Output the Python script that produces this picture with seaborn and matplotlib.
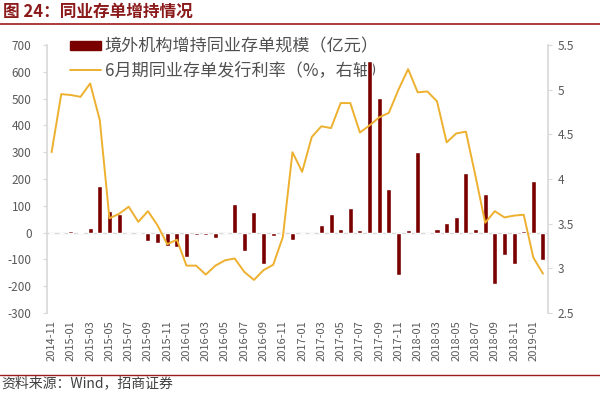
import numpy as np
import pandas as pd
import matplotlib
matplotlib.use("Agg")
import matplotlib.pyplot as plt
import seaborn as sns
from matplotlib.patches import Patch
from matplotlib.lines import Line2D

months = [str(p) for p in pd.period_range("2014-11", "2019-02", freq="M")]

holdings = [0, 0, 5, 3, 16, 175, 79, 70, 0, 0,
            -31, -37, -50, -54, -90, -10, -10, -21, -3, 106,
            -69, 75, -117, -11, 0, -27, 0, 0, 27, 70,
            14, 91, 9, 640, 502, 164, -160, 10, 300, -3,
            12, 37, 60, 222, 12, 145, -192, -84, -117, 6,
            192, -102]

rates = [4.30, 4.95, 4.94, 4.92, 5.07, 4.66, 3.56, 3.61, 3.69, 3.52,
         3.64, 3.48, 3.27, 3.32, 3.03, 3.03, 2.93, 3.03, 3.09, 3.11,
         2.96, 2.87, 2.98, 3.04, 3.35, 4.30, 4.08, 4.47, 4.59, 4.57,
         4.85, 4.85, 4.52, 4.60, 4.69, 4.74, 5.00, 5.23, 4.97, 4.98,
         4.87, 4.41, 4.51, 4.53, 4.03, 3.51, 3.64, 3.57, 3.59, 3.60,
         3.12, 2.94]

left_ticks = [700, 600, 500, 400, 300, 200, 100, 0, -100, -200, -300]
right_ticks = [2.5, 3, 3.5, 4, 4.5, 5, 5.5]
right_labels = ["2.5", "3", "3.5", "4", "4.5", "5", "5.5"]

bar_label = "境外机构增持同业存单规模（亿元）"
line_label = "6月期同业存单发行利率（%，右轴）"
title = "图 24：同业存单增持情况"
source = "资料来源：Wind，招商证券"

BAR = "#7A0000"
LINE = "#EDB02F"
TICK = "#595959"
SPINE = "#D9D9D9"
RED = "#9E1B1B"

sns.set_theme(style="white")
plt.rcParams["font.family"] = ["Noto Sans CJK SC", "DejaVu Sans"]

df = pd.DataFrame({"month": months, "holdings": holdings, "rate": rates,
                   "pos": np.arange(len(months))})

fig = plt.figure(figsize=(6.0, 3.93), dpi=100)
ax = fig.add_axes([0.078, 0.2036, 0.835, 0.6819])

sns.barplot(data=df, x="month", y="holdings", order=months, color=BAR,
            saturation=1, width=0.52, ax=ax, zorder=2)
ax.axhline(0, color=SPINE, lw=1, zorder=0.5)
ax.set_ylim(-300, 700)
ax.set_yticks(left_ticks)
ax.set_yticklabels([str(t) for t in left_ticks])
ax.set_xlim(-0.5, len(months) - 0.5)
ax.set_xticks(range(0, len(months), 2))
ax.set_xticklabels(months[::2], rotation=90)
ax.set_xlabel("")
ax.set_ylabel("")
ax.tick_params(axis="y", colors=TICK, labelsize=8.5, length=3, width=0.8,
               color=SPINE, left=True, pad=8)
ax.tick_params(axis="x", colors=TICK, labelsize=8, length=0, pad=5)
for s in ["top", "right", "bottom"]:
    ax.spines[s].set_visible(False)
ax.spines["left"].set_color(SPINE)

handles = [Patch(facecolor=BAR, edgecolor=BAR),
           Line2D([], [], color=LINE, lw=1.4)]
leg = ax.legend(handles, [bar_label, line_label], loc="upper left",
                bbox_to_anchor=(0.032, 1.054), frameon=False, fontsize=12.3,
                handlelength=1.85, handleheight=0.4, handletextpad=0.2,
                labelspacing=0.35, borderaxespad=0)
leg.set_zorder(1)
for t in leg.get_texts():
    t.set_color("#505050")

ax2 = ax.twinx()
sns.lineplot(data=df, x="pos", y="rate", color=LINE, lw=1.4, ax=ax2)
ax2.set_ylim(2.5, 5.5)
ax2.set_yticks(right_ticks)
ax2.set_yticklabels(right_labels)
ax2.set_ylabel("")
ax2.set_xlabel("")
ax2.tick_params(axis="y", colors=TICK, labelsize=8.5, length=3, width=0.8,
                color=SPINE, right=True, pad=4)
for s in ["top", "left", "bottom"]:
    ax2.spines[s].set_visible(False)
ax2.spines["right"].set_color(SPINE)

fig.text(0.005, 0.992, title, color="#8B1A1A", fontsize=12,
         fontweight="bold", va="top", ha="left")
fig.add_artist(Line2D([0, 1], [1 - 24 / 393] * 2, color=RED, lw=1.2))
fig.add_artist(Line2D([0, 1], [1 - 375 / 393] * 2, color=RED, lw=1.0))
fig.text(0.003, 1 - 383 / 393, source, color="#404040", fontsize=10,
         va="center", ha="left")

fig.savefig("out.png", dpi=100)
